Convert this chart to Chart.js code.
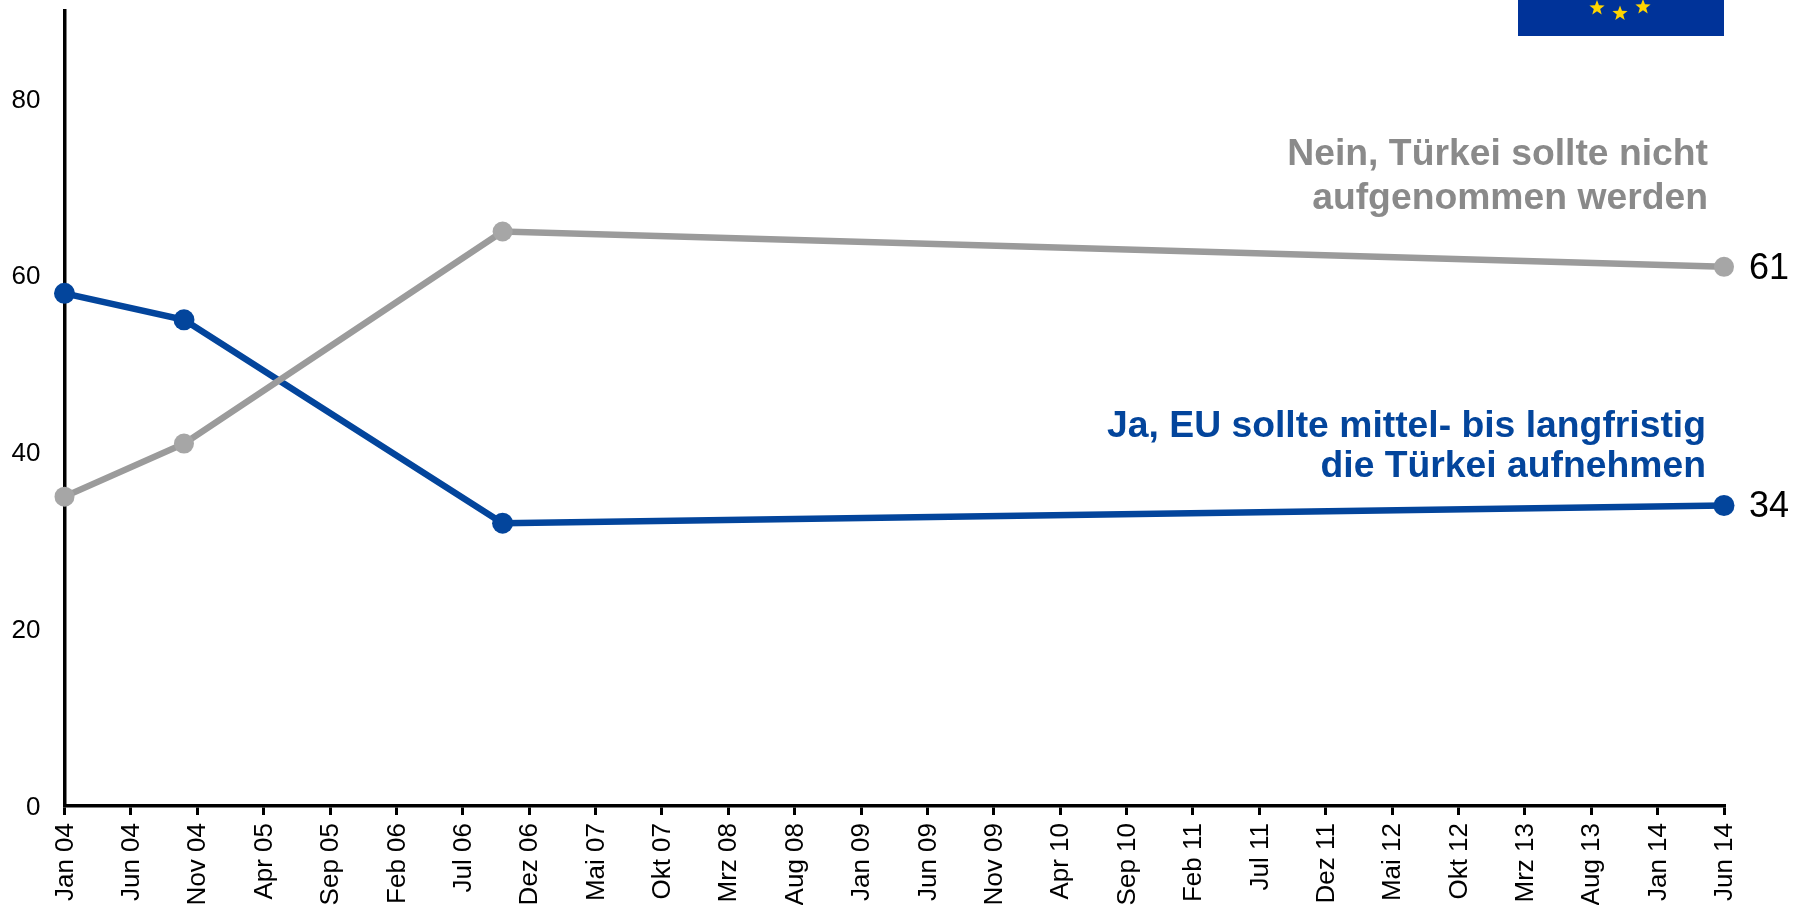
<!DOCTYPE html>
<html><head><meta charset="utf-8">
<style>html,body{margin:0;padding:0;background:#fff;overflow:hidden}canvas{display:block}</style>
<script src="https://cdn.jsdelivr.net/npm/chart.js@4"></script>
</head><body><canvas id="c" width="1803" height="905"></canvas>
<script>
const tickLabels = ["Jan 04","Jun 04","Nov 04","Apr 05","Sep 05","Feb 06","Jul 06","Dez 06","Mai 07","Okt 07","Mrz 08","Aug 08","Jan 09","Jun 09","Nov 09","Apr 10","Sep 10","Feb 11","Jul 11","Dez 11","Mai 12","Okt 12","Mrz 13","Aug 13","Jan 14","Jun 14"];
const yTickValues = [0, 20, 40, 60, 80];
const monthsSinceStart = [0, 9, 33, 125];
const jaValues = [58, 55, 32, 34];
const neinValues = [35, 41, 65, 61];
const FONT = '"Liberation Sans", Arial, sans-serif';
const BLUE = '#03459c', GREY = '#9b9b9b';
const toPts = v => v.map((y,i)=>({x:monthsSinceStart[i],y}));

function star(ctx,cx,cy,r){
  ctx.beginPath();
  for(let i=0;i<10;i++){
    const a=-Math.PI/2+i*Math.PI/5, q=i%2?r*0.42:r;
    ctx[i?'lineTo':'moveTo'](cx+q*Math.cos(a),cy+q*Math.sin(a));
  }
  ctx.closePath();ctx.fill();
}
const overlay = {
  id:'overlay',
  afterDraw(chart){
    const {ctx,scales:{x,y}}=chart;
    ctx.save();
    ctx.fillStyle='#003399';ctx.fillRect(1518,0,206,36);
    ctx.fillStyle='#ffd500';
    star(ctx,1597,8,8);star(ctx,1620,13.5,8);star(ctx,1643,7,8);
    ctx.textBaseline='middle';ctx.textAlign='right';
    ctx.font='bold 37.3px '+FONT;ctx.fillStyle='#8a8a8a';
    ctx.fillText('Nein, Türkei sollte nicht',1708,154.5);
    ctx.fillText('aufgenommen werden',1708,199);
    ctx.fillStyle=BLUE;
    ctx.fillText('Ja, EU sollte mittel- bis langfristig',1706,427);
    ctx.fillText('die Türkei aufnehmen',1706,466.5);
    ctx.textAlign='left';ctx.fillStyle='#000';ctx.font='36px '+FONT;
    const lx=x.getPixelForValue(125)+25;
    ctx.fillText(String(neinValues[3]),lx,y.getPixelForValue(neinValues[3])+2);
    ctx.fillText(String(jaValues[3]),lx,y.getPixelForValue(jaValues[3])+2);
    ctx.restore();
  }
};
new Chart(document.getElementById('c'),{
  type:'line',
  data:{datasets:[
    {label:'Nein',data:toPts(neinValues),borderColor:GREY,backgroundColor:'#a6a6a6',borderWidth:6.5,pointRadius:10,pointHoverRadius:10,pointBorderWidth:0,tension:0,clip:false},
    {label:'Ja',data:toPts(jaValues),borderColor:BLUE,backgroundColor:BLUE,borderWidth:6.5,pointRadius:10.5,pointHoverRadius:10.5,pointBorderWidth:0,tension:0,clip:false}
  ]},
  options:{
    responsive:false,animation:false,
    layout:{padding:{left:0,right:79,top:9,bottom:0}},
    plugins:{legend:{display:false},tooltip:{enabled:false}},
    scales:{
      x:{type:'linear',min:0,max:125,
        afterFit(s){s.height=99;s.paddingLeft=0;s.paddingRight=0},
        border:{color:'#000',width:3.5},
        grid:{drawOnChartArea:false,drawTicks:true,tickLength:9,color:'#000',lineWidth:3},
        ticks:{stepSize:5,autoSkip:false,maxRotation:90,minRotation:90,padding:8,labelOffset:1,color:'#000',font:{family:FONT,size:26},
          callback:v=>tickLabels[v/5]}
      },
      y:{min:0,max:90,
        afterBuildTicks(s){s.ticks=yTickValues.map(value=>({value}))},
        afterFit(s){s.width=64.5;s.paddingTop=0;s.paddingBottom=0},
        border:{color:'#000',width:3.5},
        grid:{drawOnChartArea:false,drawTicks:false},
        ticks:{stepSize:20,padding:24,labelOffset:1.5,color:'#000',font:{family:FONT,size:26}}
      }
    }
  },
  plugins:[overlay]
});
</script></body></html>
